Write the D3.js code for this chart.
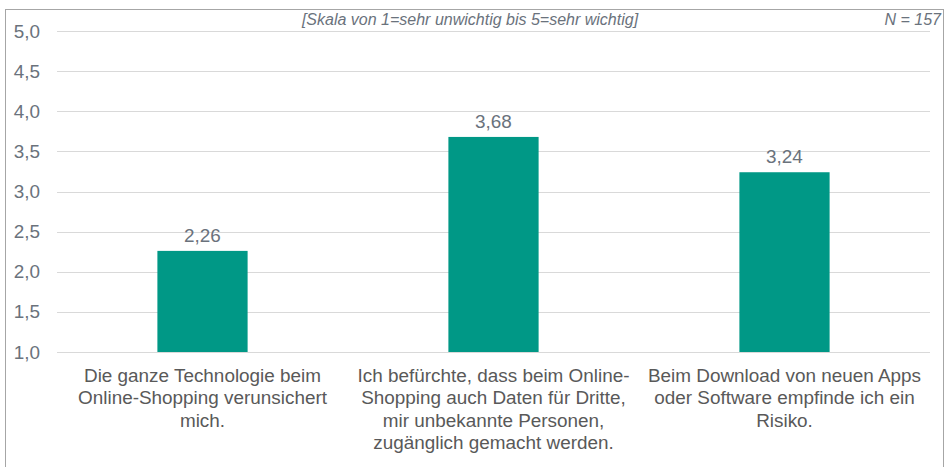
<!DOCTYPE html>
<html>
<head>
<meta charset="utf-8">
<script src="https://cdn.jsdelivr.net/npm/d3@7"></script>
<style>
  body { margin: 0; background: #fff; }
  svg text { font-family: "Liberation Sans", Arial, sans-serif; }
</style>
</head>
<body>
<div id="chart"></div>
<script>
// Chart data
const categories = ["cat1", "cat2", "cat3"];
const labelLines = [
    ["Die ganze Technologie beim", "Online-Shopping verunsichert", "mich."],
    ["Ich befürchte, dass beim Online-", "Shopping auch Daten für Dritte,", "mir unbekannte Personen,", "zugänglich gemacht werden."],
    ["Beim Download von neuen Apps", "oder Software empfinde ich ein", "Risiko."]
];
const values = [2.26, 3.68, 3.24];
const yTicks = [1.0, 1.5, 2.0, 2.5, 3.0, 3.5, 4.0, 4.5, 5.0];
const subtitle = "[Skala von 1=sehr unwichtig bis 5=sehr wichtig]";
const sampleNote = "N = 157";

const width = 947;
const height = 467;
const margin = { top: 31, right: 17, bottom: 115, left: 57 };
const fontSize = 18.9;

const fmt = v => d3.format(".2f")(v).replace(".", ",");
const fmtTick = v => d3.format(".1f")(v).replace(".", ",");

const svg = d3.select("#chart").append("svg")
    .attr("width", width)
    .attr("height", height);

// outer frame
svg.append("rect")
    .attr("x", 5.5).attr("y", 9.5)
    .attr("width", 938).attr("height", 470)
    .attr("fill", "none")
    .attr("stroke", "#a6a6a6")
    .attr("stroke-width", 1);

const x = d3.scaleBand()
    .domain(categories)
    .range([margin.left, width - margin.right])
    .paddingInner(0.69)
    .paddingOuter(0.345);

const y = d3.scaleLinear()
    .domain([1, 5])
    .range([height - margin.bottom, margin.top]);

// gridlines
svg.append("g")
    .selectAll("line")
    .data(yTicks)
    .join("line")
    .attr("x1", margin.left)
    .attr("x2", width - margin.right)
    .attr("y1", d => Math.round(y(d)) + 0.5)
    .attr("y2", d => Math.round(y(d)) + 0.5)
    .attr("stroke", "#d9d9d9")
    .attr("stroke-width", 1);

// y axis labels
const yAxis = d3.axisLeft(y)
    .tickValues(yTicks)
    .tickFormat(fmtTick)
    .tickSize(0)
    .tickPadding(17);

svg.append("g")
    .attr("transform", `translate(${margin.left},0)`)
    .call(yAxis)
    .call(g => g.select(".domain").remove())
    .call(g => g.selectAll("text")
        .attr("font-size", fontSize)
        .attr("fill", "#6a727c")
        .style("font-family", "'Liberation Sans', Arial, sans-serif"));

// bars
svg.append("g")
    .selectAll("rect")
    .data(values)
    .join("rect")
    .attr("x", (d, i) => x(categories[i]))
    .attr("width", x.bandwidth())
    .attr("y", d => y(d))
    .attr("height", d => y(1) - y(d))
    .attr("fill", "#009886");

// value labels
svg.append("g")
    .selectAll("text")
    .data(values)
    .join("text")
    .attr("x", (d, i) => x(categories[i]) + x.bandwidth() / 2)
    .attr("y", d => y(d) - 9)
    .attr("text-anchor", "middle")
    .attr("font-size", fontSize)
    .attr("fill", "#6a727c")
    .text(fmt);

// category labels
const catG = svg.append("g");
labelLines.forEach((lines, i) => {
    const t = catG.append("text")
        .attr("x", x(categories[i]) + x.bandwidth() / 2)
        .attr("y", y(1) + 30)
        .attr("text-anchor", "middle")
        .attr("font-size", fontSize)
        .attr("fill", "#595959");
    lines.forEach((line, j) => {
        t.append("tspan")
            .attr("x", x(categories[i]) + x.bandwidth() / 2)
            .attr("dy", j === 0 ? 0 : 22.4)
            .text(line);
    });
});

// header notes
svg.append("text")
    .attr("x", 470)
    .attr("y", 25)
    .attr("text-anchor", "middle")
    .attr("font-size", 16)
    .attr("font-style", "italic")
    .attr("fill", "#6a727c")
    .text(subtitle);

svg.append("text")
    .attr("x", 941)
    .attr("y", 25)
    .attr("text-anchor", "end")
    .attr("font-size", 16)
    .attr("font-style", "italic")
    .attr("fill", "#6a727c")
    .text(sampleNote);
</script>
</body>
</html>
